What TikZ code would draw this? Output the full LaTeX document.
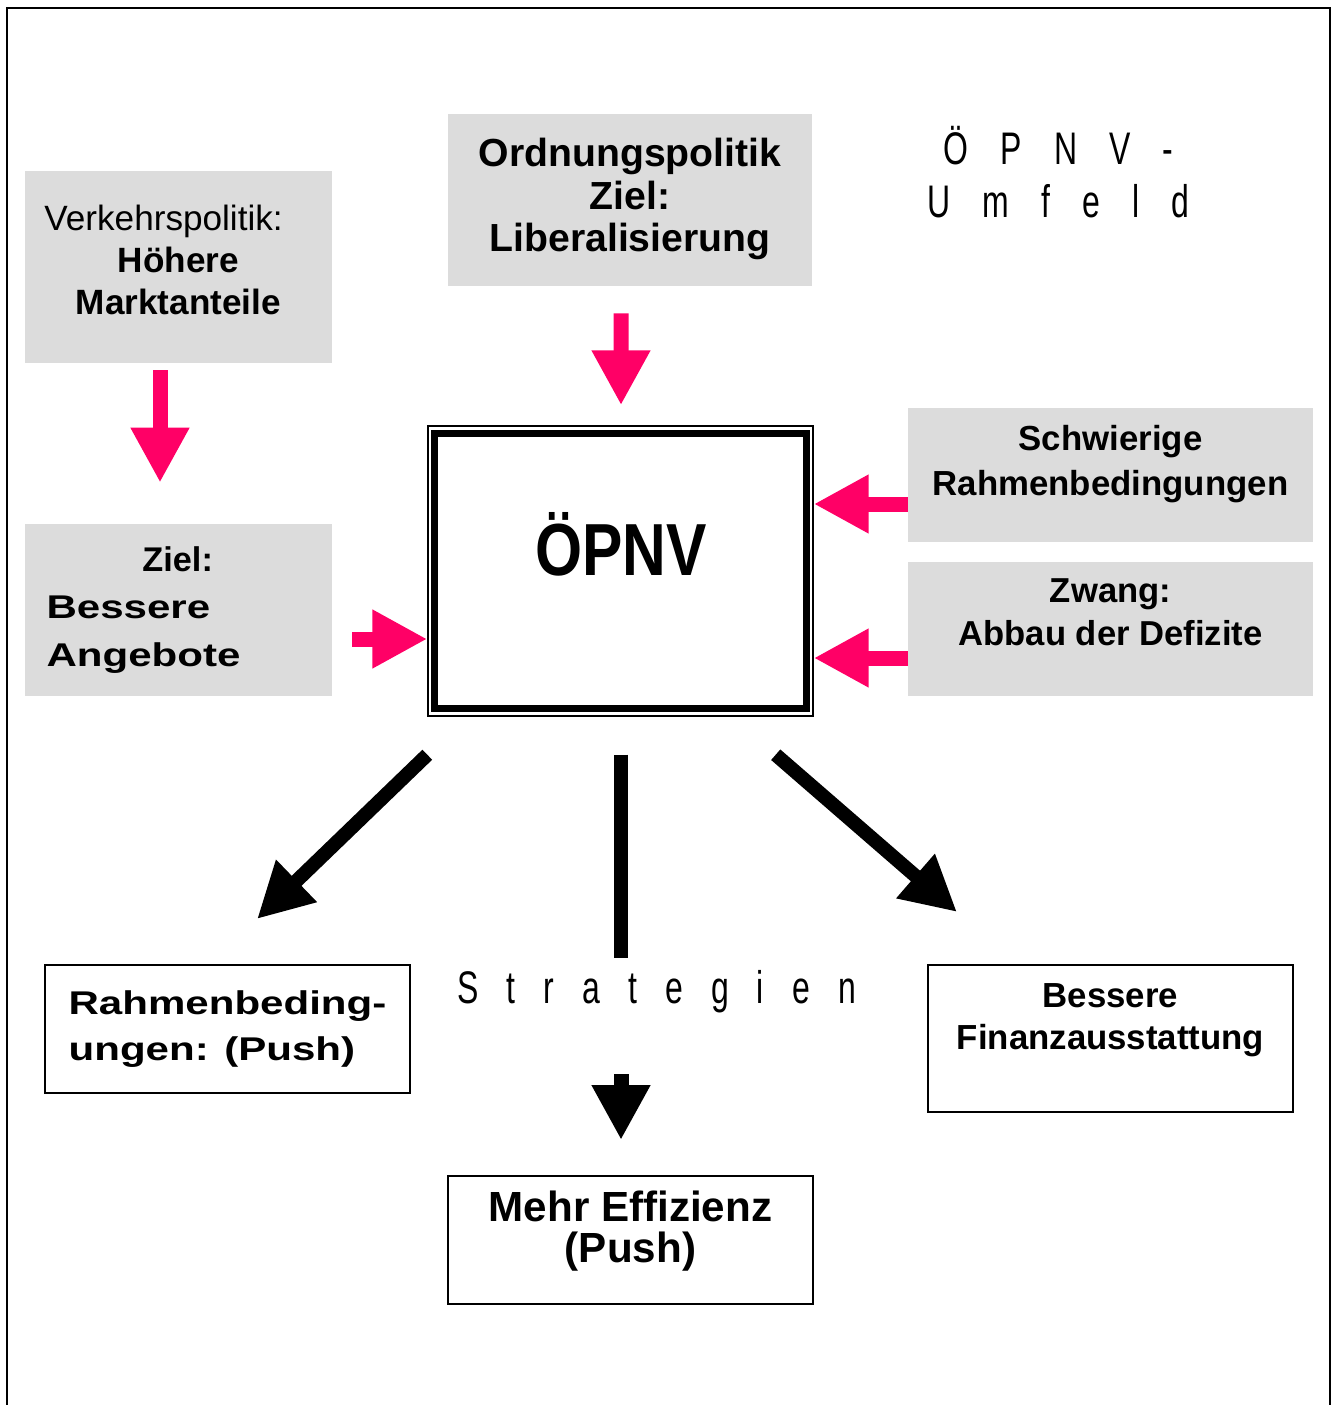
\documentclass[tikz,border=0pt]{standalone}
\usepackage{fontspec}
\setmainfont{Liberation Sans}
\newfontfamily\slimfont{Liberation Sans}[FakeStretch=0.82]
\newfontfamily\thinfont{Liberation Sans}[FakeStretch=0.7]
\newfontfamily\widefont{Liberation Sans}[FakeStretch=1.28]
\usetikzlibrary{arrows.meta,calc}

\definecolor{boxgrey}{RGB}{220,220,220}
\definecolor{arrowpink}{RGB}{255,0,102}

\tikzset{
  greybox/.style={fill=boxgrey, inner sep=0pt},
  whitebox/.style={draw=black, line width=0.04cm, fill=white, inner sep=0pt},
  pinkarrow/.style={draw=arrowpink, line width=0.3cm, -{Triangle[length=1.1cm,width=1.1cm]}},
  blackarrow/.style={draw=black, line width=0.28cm, -{Triangle[length=1.1cm,width=1.1cm]}},
}

\begin{document}
\begin{tikzpicture}[x=0.02cm, y=-0.02cm]
  \useasboundingbox (0,0) rectangle (1332,1405);
  \draw [line width=0.04cm] (7,1405) -- (7,8) -- (1330,8) -- (1330,1405);

  % Umfeld
  \node [greybox, minimum width=6.14cm, minimum height=3.84cm] (verkehr) at (178.5,267) {};
  \node [font=\fontsize{20}{24}\selectfont, align=center] (verkehrtext) at (178.5,260) {Verkehrspolitik:\hspace*{17pt}\\ \textbf{Höhere}\\ \textbf{Marktanteile}};

  \node [greybox, minimum width=7.28cm, minimum height=3.44cm] (ordnung) at (630,200) {};
  \node [font=\bfseries\fontsize{22.3}{24.2}\selectfont, align=center] (ordnungtext) at (630,199) {Ordnungspolitik\\Ziel:\\Liberalisierung};

  \node [font={\thinfont\fontsize{26}{30}\selectfont\spaceskip=18.2pt\relax}, align=center] (umfeld) at (1058.5,172) {Ö P N V -\\U m f e l d};

  \node [greybox, minimum width=8.1cm, minimum height=2.68cm] (schwierig) at (1110.5,475) {};
  \node [font=\bfseries\fontsize{19.8}{26}\selectfont, align=center] (schwierigtext) at (1110.5,464) {Schwierige\\Rahmenbedingungen};

  \node [greybox, minimum width=8.1cm, minimum height=2.68cm] (zwang) at (1110.5,629) {};
  \node [font=\bfseries\fontsize{19.7}{24.7}\selectfont, align=center] (zwangtext) at (1110.5,612) {Zwang:\\Abbau der Defizite};

  \node [greybox, minimum width=6.14cm, minimum height=3.44cm] (ziel) at (178.5,610) {};
  \node [font=\bfseries\fontsize{18.7}{27}\selectfont, align=left] (zieltext) at (143.5,610) {\hspace*{54.6pt}{\fontsize{19.5}{27}\selectfont Ziel:}\\ \widefont Bessere\\ \widefont Angebote};

  % OePNV
  \node [draw, line width=0.03cm, minimum width=7.7cm, minimum height=5.8cm, inner sep=0pt] (opnv) at (620.5,571) {};
  \draw [line width=0.14cm] ($(opnv.north west)+(7.5,8.5)$) rectangle ($(opnv.south east)+(-7,-8)$);
  \node [font=\slimfont\bfseries\fontsize{42}{48}\selectfont] (opnvtext) at (621,544) {ÖPNV};

  % Strategien
  \node [whitebox, minimum width=7.3cm, minimum height=2.56cm] (rahmen) at (227.5,1029) {};
  \node [font=\widefont\bfseries\fontsize{18.7}{26.4}\selectfont, align=left] (rahmentext) at (227.5,1029) {Rahmenbeding-\\ungen: (Push)};

  \node [whitebox, minimum width=7.3cm, minimum height=2.94cm] (finanz) at (1110.5,1038.5) {};
  \node [font=\bfseries\fontsize{19.8}{24}\selectfont, align=center] (finanztext) at (1110.5,1020) {Bessere\\Finanzausstattung};

  \node [whitebox, minimum width=7.3cm, minimum height=2.56cm] (effizienz) at (630.5,1240) {};
  \node [font=\bfseries\fontsize{24}{23.7}\selectfont, align=center] (effizienztext) at (630.5,1231) {Mehr Effizienz\\(Push)};

  \node [font={\thinfont\fontsize{26}{30}\selectfont\spaceskip=16pt\relax}] (strategien) at (656.5,992) {S t r a t e g i e n};

  % pink arrows
  \draw [pinkarrow] ($(verkehr.south)+(-18.5,7)$) -- ($(ziel.north)+(-18.5,-41)$);
  \draw [pinkarrow] ($(ordnung.south)+(-9,27)$) -- ($(opnv.north)+(0.5,-20)$);
  \draw [pinkarrow] ($(ziel.east)+(20,29)$) -- ($(opnv.west)+(0,68)$);
  \draw [pinkarrow] ($(schwierig.west)+(0,29)$) -- ($(opnv.east)+(0,-67)$);
  \draw [pinkarrow] ($(zwang.west)+(0,29)$) -- ($(opnv.east)+(0,87)$);

  % black arrows
  \draw [blackarrow] ($(opnv.south west)+(0,38)$) -- ($(rahmen.north)+(29.5,-45)$);
  \draw [blackarrow] ($(opnv.south east)+(-38,38)$) -- ($(finanz.north)+(-153.5,-52)$);
  \draw [line width=0.28cm] ($(opnv.south)+(0.5,38)$) -- ($(opnv.south)+(0.5,241)$);
  \draw [blackarrow, line width=0.3cm] ($(effizienz.north)+(-9.5,-101)$) -- ($(effizienz.north)+(-9.5,-35)$);
\end{tikzpicture}
\end{document}
